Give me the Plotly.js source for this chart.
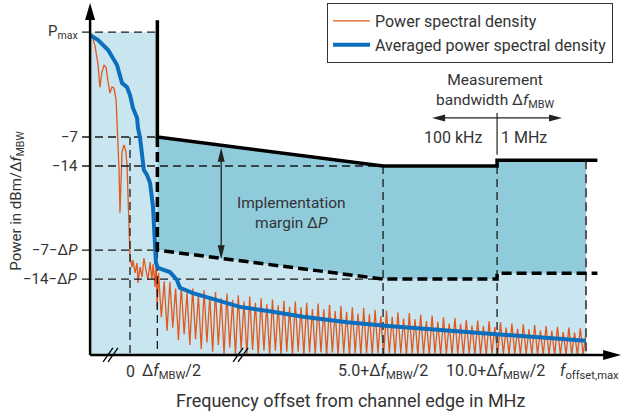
<!DOCTYPE html>
<html>
<head>
<meta charset="utf-8">
<script src="https://cdn.plot.ly/plotly-3.0.1.min.js"></script>
<style>
  html, body { margin: 0; padding: 0; background: #fff; }
  #chart { width: 624px; height: 418px; }
</style>
</head>
<body>
<div id="chart"></div>
<script>
// ---- Spectrum emission mask (schematic). Levels in dB, offsets in MHz on a broken axis ----
const fZero = 0;
const fHalfMbw = 1.2;      // Δf_MBW/2
const f5 = 11.1;           // 5.0 + Δf_MBW/2
const f10 = 16.1;          // 10.0 + Δf_MBW/2
const fOffsetMax = 20.0;
const fAxisStart = -1.75;
const fMaskEnd = 20.5;
const pMax = 18.3;
const maskTop = 21.2;
const deltaP = 27.3;       // implementation margin ΔP
const floorLevel = -59.6;  // level of the frequency axis

// Limit line (solid) of the mask, from Δf_MBW/2 to f_offset,max
const maskX = [1.2, 11.1, 16.1, 16.1, 20.0];
const maskY = [-7, -14, -14, -12.6, -12.6];

// Tick labels
const yTickVals = [18.3, -7, -14, -34.3, -41.3];
const yTickText = ['P<sub>max</sub>', '\u22127', '\u221214', '\u22127\u2212\u0394<i>P</i>', '\u221214\u2212\u0394<i>P</i>'];
const xTickVals = [0, 1.2, 11.1, 16.1, 20.0];
const xTickText = ['0', '\u0394<i>f</i><sub>MBW</sub>/2', '5.0+\u0394<i>f</i><sub>MBW</sub>/2',
                   '10.0+\u0394<i>f</i><sub>MBW</sub>/2', '<i>f</i><sub>offset,max</sub>'];

// Power spectral density: in-channel part and transition
const psdLeftX = [-1.75,-1.67,-1.54,-1.40,-1.32,-1.23,-1.14,-1.05,-0.96,-0.88,-0.79,-0.70,-0.61,-0.53,
  -0.48,-0.44,-0.39,-0.35,-0.26,-0.18,-0.13,-0.09,-0.04,0.0,0.09,0.13,0.22,0.31,0.35,0.44,0.53,0.61,
  0.70,0.79,0.88,0.96,1.01,1.10,1.14,1.19];
const psdLeftY = [18.3,17.3,15.2,10.4,5.0,8.7,10.4,9.7,6.3,3.6,5.1,4.8,1.9,-6.5,
  -15.0,-25.3,-17.4,-10.6,-8.9,-10.6,-13.8,-22.2,-31.9,-36.0,-38.4,-36.7,-39.8,-37.4,-42.2,-38.4,-40.8,-36.2,
  -39.1,-41.5,-37.2,-41.5,-37.7,-43.2,-36.2,-48.5];

// Power spectral density: out-of-band ripple (peaks and nulls)
const psdRippleX = [
  1.25,1.375,1.5,1.625,1.75,1.875,2,2.125,
  2.25,2.375,2.5,2.625,2.75,2.875,3,3.125,
  3.25,3.375,3.5,3.625,3.75,3.875,4,4.125,
  4.25,4.375,4.5,4.625,4.75,4.875,5,5.125,
  5.25,5.375,5.5,5.625,5.75,5.875,6,6.125,
  6.25,6.375,6.5,6.625,6.75,6.875,7,7.125,
  7.25,7.375,7.5,7.625,7.75,7.875,8,8.125,
  8.25,8.375,8.5,8.625,8.75,8.875,9,9.125,
  9.25,9.375,9.5,9.625,9.75,9.875,10,10.125,
  10.25,10.375,10.5,10.625,10.75,10.875,11,11.125,
  11.25,11.375,11.5,11.625,11.75,11.875,12,12.125,
  12.25,12.375,12.5,12.625,12.75,12.875,13,13.125,
  13.25,13.375,13.5,13.625,13.75,13.875,14,14.125,
  14.25,14.375,14.5,14.625,14.75,14.875,15,15.125,
  15.25,15.375,15.5,15.625,15.75,15.875,16,16.125,
  16.25,16.375,16.5,16.625,16.75,16.875,17,17.125,
  17.25,17.375,17.5,17.625,17.75,17.875,18,18.125,
  18.25,18.375,18.5,18.625,18.75,18.875,19,19.125,
  19.25,19.375,19.5,19.625,19.75,19.875,20];
const psdRippleY = [
  -39.8,-50.5,-41.8,-53.8,-42.0,-53.0,-43.6,-56.0,
  -43.0,-54.6,-44.6,-57.2,-43.6,-55.8,-45.2,-58.2,
  -44.0,-56.6,-45.5,-58.8,-44.4,-57.2,-45.9,-59.3,
  -44.8,-57.8,-46.3,-59.6,-45.2,-58.2,-46.7,-59.6,
  -45.5,-58.4,-47.0,-59.6,-45.9,-58.6,-47.4,-59.6,
  -46.2,-58.6,-47.6,-59.6,-46.5,-58.8,-48.0,-59.6,
  -46.7,-58.8,-48.1,-59.6,-47.0,-59.0,-48.5,-59.6,
  -47.2,-59.0,-48.6,-59.6,-47.5,-59.0,-49.0,-59.6,
  -47.8,-59.2,-49.2,-59.6,-48.1,-59.2,-49.6,-59.6,
  -48.3,-59.2,-49.8,-59.6,-48.7,-59.2,-50.2,-59.6,
  -48.9,-59.2,-50.4,-59.6,-49.3,-59.2,-50.8,-59.6,
  -49.5,-59.3,-51.0,-59.6,-49.9,-59.3,-51.4,-59.6,
  -50.1,-59.3,-51.6,-59.6,-50.5,-59.3,-52.0,-59.6,
  -50.7,-59.3,-52.1,-59.6,-51.1,-59.3,-52.5,-59.6,
  -51.3,-59.4,-52.6,-59.6,-51.5,-59.4,-52.9,-59.6,
  -51.7,-59.4,-53.0,-59.6,-52.0,-59.4,-53.3,-59.6,
  -52.2,-59.4,-53.4,-59.6,-52.4,-59.4,-53.7,-59.6,
  -52.6,-59.5,-53.8,-59.6,-52.8,-59.5,-54.1,-59.6,
  -53.0,-59.5,-54.2,-59.6,-53.2,-59.5,-54.4];

// Averaged power spectral density
const avgX = [-1.75,-1.40,-0.96,-0.57,-0.35,-0.13,0.0,0.13,0.31,0.35,0.44,0.53,0.61,0.75,0.88,1.01,
  1.10,1.14,1.23,1.75,2.06,2.19,2.76,3.82,4.82,6.05,7.59,9.52,11.32,15.35,17.68,20.0];
const avgY = [17.6,16.4,14.0,10.4,6.0,5.0,3.1,0.0,-2.4,-4.8,-7.2,-11.3,-15.0,-16.2,-18.1,-23.9,
  -31.9,-37.4,-38.6,-39.6,-41.5,-43.4,-44.7,-46.3,-48.0,-49.0,-50.4,-51.7,-52.6,-54.3,-55.3,-56.2];

// ---- derived geometry ----
const marginY = maskY.map(v => v - deltaP);
function maskAt(f) {
  for (let i = 0; i < maskX.length - 1; i++) {
    if (f >= maskX[i] && f <= maskX[i + 1] && maskX[i + 1] > maskX[i]) {
      return maskY[i] + (maskY[i + 1] - maskY[i]) * (f - maskX[i]) / (maskX[i + 1] - maskX[i]);
    }
  }
  return maskY[maskY.length - 1];
}
const last = maskY.length - 1;

const FONT = 'Roboto, "Noto Sans", sans-serif';
const TXT = '#333333';
const LIGHT = '#c9e5ef';
const TEAL = '#8fcbdb';
const ORANGE = '#e2581d';
const BLUE = '#0b6fbd';

// light region: in-channel block plus everything below the margin line
const lightX = [fAxisStart, fAxisStart, fHalfMbw].concat(maskX, [fOffsetMax]);
const lightY = [floorLevel, pMax, pMax].concat(marginY, [floorLevel]);

// teal region between mask and mask-ΔP
const tealX = maskX.concat(maskX.slice().reverse());
const tealY = maskY.concat(marginY.slice().reverse());

// thin dashed guides (null separated)
const tickStart = -2.105;
const guideX = [tickStart, fHalfMbw, null, tickStart, fHalfMbw, null, tickStart, f5, null,
  tickStart, fHalfMbw, null, tickStart, f5, null,
  fZero, fZero, null, fHalfMbw, fHalfMbw, null, f5, f5, null, f10, f10];
const guideY = [yTickVals[0], yTickVals[0], null, yTickVals[1], yTickVals[1], null, yTickVals[2], yTickVals[2], null,
  yTickVals[3], yTickVals[3], null, yTickVals[4], yTickVals[4], null,
  -7, floorLevel, null, marginY[0], floorLevel, null, maskY[1], floorLevel, null, maskY[2], floorLevel];

const traces = [
  { x: lightX, y: lightY, type: 'scatter', mode: 'lines', fill: 'toself', fillcolor: LIGHT,
    line: { width: 0 }, showlegend: false, hoverinfo: 'skip' },
  { x: tealX, y: tealY, type: 'scatter', mode: 'lines', fill: 'toself', fillcolor: TEAL,
    line: { width: 0 }, showlegend: false, hoverinfo: 'skip' },
  { x: psdLeftX.concat(psdRippleX), y: psdLeftY.concat(psdRippleY), type: 'scatter', mode: 'lines',
    name: 'Power spectral density', line: { color: ORANGE, width: 1.3 } },
  { x: guideX, y: guideY, type: 'scatter', mode: 'lines', connectgaps: false, showlegend: false,
    line: { color: '#1a1a1a', width: 1.3, dash: '8px,5px' }, hoverinfo: 'skip' },
  { x: [fOffsetMax, fOffsetMax], y: [maskY[last], floorLevel], type: 'scatter', mode: 'lines', showlegend: false,
    line: { color: '#555555', width: 2, dash: '9px,5px' }, hoverinfo: 'skip' },
  { x: avgX, y: avgY, type: 'scatter', mode: 'lines', name: 'Averaged power spectral density',
    line: { color: BLUE, width: 4 } },
  { x: [fHalfMbw].concat(maskX, [fMaskEnd]), y: [maskTop].concat(maskY, [maskY[last]]),
    type: 'scatter', mode: 'lines', showlegend: false, line: { color: '#000', width: 3.5 }, hoverinfo: 'skip' },
  { x: [fHalfMbw].concat(maskX, [fMaskEnd]), y: [maskY[0]].concat(marginY, [marginY[last]]),
    type: 'scatter', mode: 'lines', showlegend: false, line: { color: '#000', width: 3.5, dash: '10px,5px' },
    hoverinfo: 'skip' }
];

// ---- annotations ----
const ann = [];
function txt(x, y, text, size, opts) {
  ann.push(Object.assign({ x: x, y: y, xref: 'x', yref: 'y', text: text, showarrow: false,
    font: { family: FONT, size: size, color: TXT } }, opts || {}));
}
yTickVals.forEach((v, i) => txt(-2.19, v, yTickText[i], 15, { xanchor: 'right', yanchor: 'middle' }));
const xLabelPos = [0, 1.8, 11.1, 16.05, 18.77];
xTickText.forEach((t, i) => txt(xLabelPos[i], -63.7, t, 16,
  { xanchor: i === 4 ? 'left' : 'center', yanchor: 'middle' }));
txt(9.65, -70.5, 'Frequency offset from channel edge in MHz', 18);
txt(-4.96, -22.4, 'Power in dBm/\u0394<i>f</i><sub>MBW</sub>', 15, { textangle: -90 });
txt(7.1, -25.3, 'Implementation<br>margin \u0394<i>P</i>', 15.5);
txt(16.0, 4.1, 'Measurement<br>bandwidth \u0394<i>f</i><sub>MBW</sub>', 15.5);
txt(14.17, -7.1, '100 kHz', 16);
txt(17.28, -7.1, '1 MHz', 16);

// ---- shapes: axes, arrows, breaks ----
const shp = [];
function seg(x0, y0, x1, y1, w, c) {
  shp.push({ type: 'line', xref: 'x', yref: 'y', x0: x0, y0: y0, x1: x1, y1: y1,
    line: { color: c || '#000', width: w } });
}
function head(x, y, path, c) {
  shp.push({ type: 'path', xref: 'x', yref: 'y', xsizemode: 'pixel', ysizemode: 'pixel',
    xanchor: x, yanchor: y, path: path, fillcolor: c || '#000', line: { width: 0 } });
}
// axes
seg(fAxisStart, floorLevel, fAxisStart, 24.0, 2.5);
head(fAxisStart, 25.34, 'M0,0L-5,-17L5,-17Z');
seg(fAxisStart, floorLevel, 21.0, floorLevel, 2.5);
head(21.54, floorLevel, 'M0,0L-18,5L-18,-5Z');
// axis breaks
seg(-1.18, -61.3, -0.75, -57.9, 1.3);
seg(-0.96, -61.3, -0.53, -57.9, 1.3);
seg(4.52, -61.3, 4.96, -57.9, 1.3);
seg(4.74, -61.3, 5.18, -57.9, 1.3);
// measurement bandwidth arrows
seg(13.5, -2.4, 18.7, -2.4, 1.3, '#222');
head(13.25, -2.4, 'M0,0L13,3.5L13,-3.5Z', '#222');
head(18.95, -2.4, 'M0,0L-13,3.5L-13,-3.5Z', '#222');
seg(f10, -1.2, f10, -11.3, 1.2, '#222');
// implementation margin arrow
const fArrow = 4.0;
const aTop = maskAt(fArrow) - 0.6;
const aBot = maskAt(fArrow) - deltaP - 0.2;
seg(fArrow, aTop - 2, fArrow, aBot + 2, 1.3, '#222');
head(fArrow, aTop, 'M0,0L-3.5,-14L3.5,-14Z', '#222');
head(fArrow, aBot, 'M0,0L-3.5,14L3.5,14Z', '#222');

// pixel scale: 22.8 px per MHz unit, 4.143 px per dB, origin at (130 px, -7 dB @ 137 px)
const layout = {
  width: 624, height: 418,
  margin: { l: 0, r: 0, t: 0, b: 0, pad: 0 },
  paper_bgcolor: '#fff', plot_bgcolor: '#fff',
  xaxis: { range: [-5.702, 21.667], visible: false, fixedrange: true },
  yaxis: { range: [-74.82, 26.07], visible: false, fixedrange: true },
  showlegend: true,
  legend: { x: 327 / 624, y: 1 - 3 / 418, xanchor: 'left', yanchor: 'top',
    bgcolor: '#fff', bordercolor: '#333', borderwidth: 1, itemwidth: 37,
    font: { family: FONT, size: 16, color: TXT }, tracegroupgap: 0 },
  annotations: ann,
  shapes: shp,
  font: { family: FONT, color: TXT }
};

Plotly.newPlot('chart', traces, layout, { staticPlot: true, displayModeBar: false });
</script>
</body>
</html>
